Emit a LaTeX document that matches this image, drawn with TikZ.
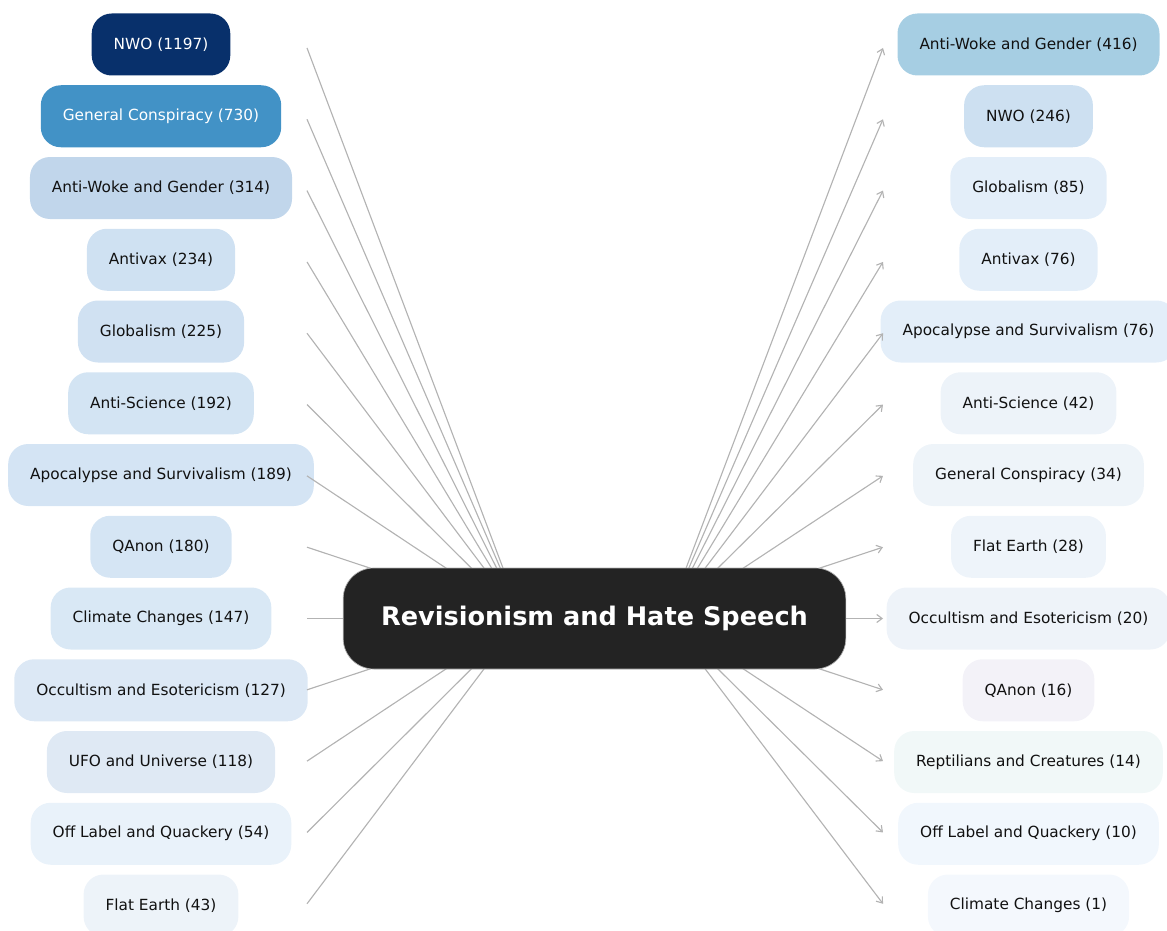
\documentclass[tikz,border=0pt]{standalone}
\usepackage{fontspec}
\setmainfont{DejaVu Sans}
\usetikzlibrary{arrows.meta}
\definecolor{L0}{HTML}{08306B}
\definecolor{L1}{HTML}{4292C6}
\definecolor{L2}{HTML}{C1D6EB}
\definecolor{L3}{HTML}{CFE1F2}
\definecolor{L4}{HTML}{D0E1F2}
\definecolor{L5}{HTML}{D3E4F3}
\definecolor{L6}{HTML}{D4E4F4}
\definecolor{L7}{HTML}{D5E5F4}
\definecolor{L8}{HTML}{D9E8F5}
\definecolor{L9}{HTML}{DCE8F5}
\definecolor{L10}{HTML}{DFE9F4}
\definecolor{L11}{HTML}{E9F2FA}
\definecolor{L12}{HTML}{EDF3F9}
\definecolor{R0}{HTML}{A6CEE3}
\definecolor{R1}{HTML}{CDE0F1}
\definecolor{R2}{HTML}{E3EEF9}
\definecolor{R3}{HTML}{E3EEF9}
\definecolor{R4}{HTML}{E3EEF9}
\definecolor{R5}{HTML}{EDF3F9}
\definecolor{R6}{HTML}{EEF4F9}
\definecolor{R7}{HTML}{EEF4FA}
\definecolor{R8}{HTML}{EEF3F9}
\definecolor{R9}{HTML}{F3F2F8}
\definecolor{R10}{HTML}{F1F8F8}
\definecolor{R11}{HTML}{F1F7FD}
\definecolor{R12}{HTML}{F4F8FD}
\definecolor{txt}{HTML}{111111}
\definecolor{edgegray}{HTML}{B3B3B3}
\definecolor{hubfill}{HTML}{232323}
\definecolor{hubline}{HTML}{B0B0B0}
\begin{document}
\begin{tikzpicture}[x=0.75pt,y=-0.75pt,
  cat/.style={rounded corners=15pt, minimum height=46.5pt, inner xsep=16.5pt, inner ysep=0pt,
    font=\fontsize{11.5pt}{13pt}\selectfont, text=txt},
  edge/.style={draw=edgegray, line width=0.85pt},
  arr/.style={edge, -{Straight Barb[length=4pt,width=6pt]}},
  hub/.style={fill=hubfill, draw=hubline, line width=0.5pt, rounded corners=23pt,
    minimum width=377pt, minimum height=75.75pt, text=white,
    font=\fontsize{19.2pt}{23pt}\selectfont\bfseries}]
\useasboundingbox (0,0) rectangle (1167,931);
\clip (0,0) rectangle (1167,931);
% left column
\foreach \i/\t/\tc in {0/{NWO (1197)}/white, 1/{General Conspiracy (730)}/white,
  2/{Anti-Woke and Gender (314)}/txt, 3/{Antivax (234)}/txt, 4/{Globalism (225)}/txt,
  5/{Anti-Science (192)}/txt, 6/{Apocalypse and Survivalism (189)}/txt, 7/{QAnon (180)}/txt,
  8/{Climate Changes (147)}/txt, 9/{Occultism and Esotericism (127)}/txt,
  10/{UFO and Universe (118)}/txt, 11/{Off Label and Quackery (54)}/txt, 12/{Flat Earth (43)}/txt}
  \node[cat, fill=L\i, text=\tc] (l\i) at (161, {44.5+71.75*\i}) {\t};
% right column
\foreach \i/\t in {0/{Anti-Woke and Gender (416)}, 1/{NWO (246)}, 2/{Globalism (85)},
  3/{Antivax (76)}, 4/{Apocalypse and Survivalism (76)}, 5/{Anti-Science (42)},
  6/{General Conspiracy (34)}, 7/{Flat Earth (28)}, 8/{Occultism and Esotericism (20)},
  9/{QAnon (16)}, 10/{Reptilians and Creatures (14)}, 11/{Off Label and Quackery (10)},
  12/{Climate Changes (1)}}
  \node[cat, fill=R\i] (r\i) at (1028.5, {44.5+71.75*\i}) {\t};
% connectors
\coordinate (lt) at (522,618.5);
\coordinate (rs) at (667,618.5);
\foreach \i in {0,...,12}{
  \coordinate (ls\i) at (307, {618.5+(44.5+71.75*\i-618.5)*0.994});
  \coordinate (re\i) at (883, {618.5+(44.5+71.75*\i-618.5)*0.994});
  \draw[edge] (ls\i) -- (lt);
  \draw[arr] (rs) -- (re\i);
}
% hub
\node[hub] (hub) at (594.5,618.5) {Revisionism and Hate Speech};
\end{tikzpicture}
\end{document}
